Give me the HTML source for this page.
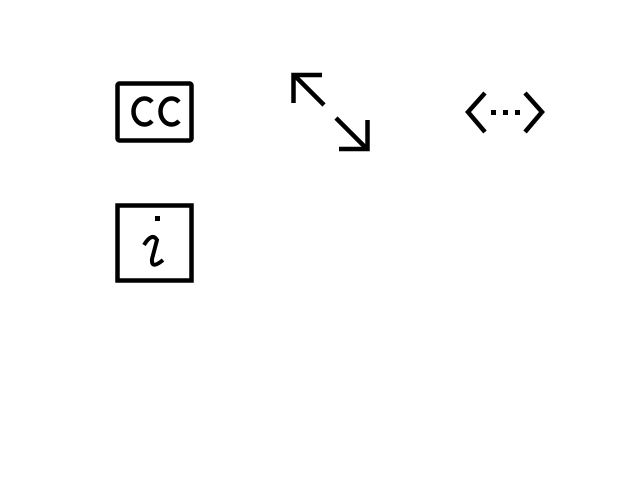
<!DOCTYPE html>
<html><head><style>html,body{margin:0;background:#fff;}svg{display:block}</style></head>
<body>
<svg width="640" height="480" viewBox="0 0 640 480" xmlns="http://www.w3.org/2000/svg">
<g fill="none" stroke="#000" stroke-width="4.5">
<rect x="117.5" y="83.5" width="74" height="57" rx="2"/>
<path d="M152 102 A11 13 0 1 0 152 121"/>
<path d="M179 102 A11 13 0 1 0 179 121"/>
<rect x="117.5" y="205.5" width="74" height="75"/>
<path d="M144 245 Q152 232 157 240 L152 259 Q151 270 163 260" stroke-width="4"/>
<path d="M322 75 H293.5 V103"/>
<path d="M295 76 L324 105"/>
<path d="M339 149 H367.5 V120"/>
<path d="M336 118 L366 148"/>
<path d="M485 93 L468 112 L485 132"/>
<path d="M525 93 L542 112 L525 132"/>
</g>
<rect x="155" y="216" width="5" height="5"/>
<rect x="491" y="110" width="5" height="5"/>
<rect x="503" y="110" width="5" height="5"/>
<rect x="515" y="110" width="5" height="5"/>
</svg>
</body></html>
